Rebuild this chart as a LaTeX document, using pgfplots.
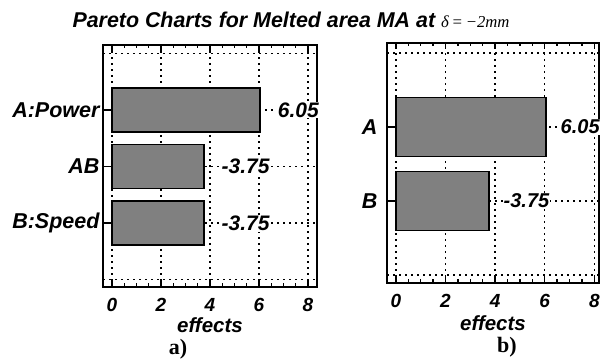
\documentclass[border=0pt]{standalone}
\usepackage{pgfplots}
\pgfplotsset{compat=1.18}
\usepackage{fontspec}
\setmainfont{Liberation Sans}
\newfontfamily\seriffont{Liberation Serif}
\newcommand{\bi}[1]{\fontsize{#1}{#1}\selectfont\bfseries\itshape}
\pgfplotsset{
  pareto/.style={
    scale only axis,
    anchor=south west,
    clip=false,
    axis line style={line width=2.4bp},
    tick style={black, line width=1.3bp},
    major tick length=6bp,
    minor tick length=3.5bp,
    tick align=inside,
    xtick pos=both,
    ytick pos=left,
    xtick={0,2,4,6,8},
    xticklabels={0,2,4,6,8},
    minor x tick num=3,
    xmajorgrids,
    ymajorgrids,
    major grid style={black, line width=1.5bp, dash pattern=on 1.5bp off 4.5bp},
    xticklabel style={font=\bi{19bp}, yshift=-8bp},
    yticklabel style={font=\bi{21.5bp}},
    xlabel={effects},
    xlabel style={font=\bi{20.5bp}},
    extra y tick style={major tick length=0pt, ymajorgrids},
  },
  barstyle/.style 2 args={
    xbar, fill=gray, draw=black, line width=1.6bp,
    nodes near coords, point meta=explicit symbolic,
    nodes near coords style={font=\bi{#1}, fill=white, inner sep=1bp, anchor=west, xshift=#2},
  }
}
\begin{document}
\begin{tikzpicture}
\useasboundingbox (0,0) rectangle (600bp,360bp);
\node[font=\bi{21.4bp}] at (291bp,340bp) {Pareto Charts for Melted area MA at {\seriffont\mdseries\fontsize{16.7bp}{16.7bp}\selectfont\textit{δ}\,=\,−2\textit{mm}}};
% left
\begin{axis}[pareto,
  at={(103bp,73bp)}, width=214bp, height=242bp,
  xmin=-0.367, xmax=8.37, ymin=-0.13, ymax=4.15,
  ytick={1,2,3}, yticklabels={B:Speed,AB,A:Power},
  extra y ticks={0,4}, extra y tick labels={,},
  xlabel style={at={(axis description cs:0.5,-0.157)}, anchor=center},
]
\addplot[barstyle={21bp}{16bp}, bar width=0.78] table[meta=lab] {
x y lab
3.75 1 -3.75
3.75 2 -3.75
6.05 3 6.05
};
\end{axis}
% right
\begin{axis}[pareto,
  at={(387bp,77bp)}, width=212bp, height=240bp,
  xmin=-0.36, xmax=8.19, ymin=-0.108, ymax=3.135,
  ytick={1,2}, yticklabels={B,A},
  yticklabel style={xshift=-6bp},
  extra y ticks={0,3}, extra y tick labels={,},
  xlabel style={at={(axis description cs:0.5,-0.167)}, anchor=center},
]
\addplot[barstyle={20bp}{13bp}, bar width=0.8] table[meta=lab] {
x y lab
3.75 1 -3.75
6.05 2 6.05
};
\end{axis}
\node[font=\seriffont\bfseries\fontsize{22bp}{22bp}\selectfont] at (178bp,11bp) {a)};
\node[font=\seriffont\bfseries\fontsize{22bp}{22bp}\selectfont] at (507bp,13bp) {b)};
\end{tikzpicture}
\end{document}
